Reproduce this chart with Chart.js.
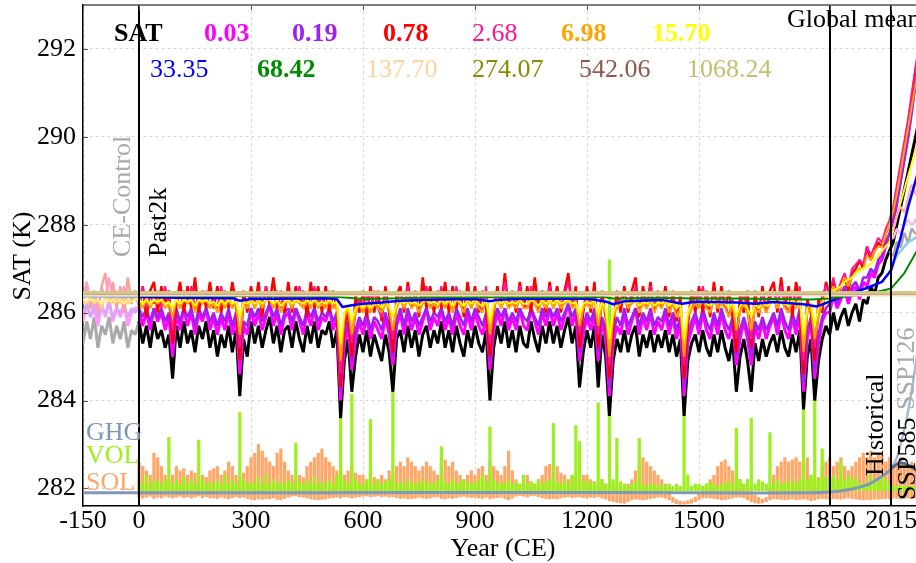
<!DOCTYPE html>
<html>
<head>
<meta charset="utf-8">
<script src="https://cdn.jsdelivr.net/npm/chart.js@4.4.1/dist/chart.umd.min.js"></script>
<style>
  html, body { margin: 0; padding: 0; background: #fff; overflow: hidden; }
  #wrap { width: 916px; height: 563px; overflow: hidden; }
  canvas { display: block; }
</style>
</head>
<body>
<div id="wrap"><canvas id="satChart" width="930" height="563"></canvas></div>
<script>
// decadal grid, CE-Control (-150..-10), Past2k, Historical, SSP585
const years = [
  -150, -140, -130, -120, -110, -100, -90, -80, -70, -60, -50, -40, -30, -20, -10,
  0, 10, 20, 30, 40, 50, 60, 70, 80, 90,
  100, 110, 120, 130, 140, 150, 160, 170, 180, 190,
  200, 210, 220, 230, 240, 250, 260, 270, 280, 290,
  300, 310, 320, 330, 340, 350, 360, 370, 380, 390,
  400, 410, 420, 430, 440, 450, 460, 470, 480, 490,
  500, 510, 520, 530, 540, 550, 560, 570, 580, 590,
  600, 610, 620, 630, 640, 650, 660, 670, 680, 690,
  700, 710, 720, 730, 740, 750, 760, 770, 780, 790,
  800, 810, 820, 830, 840, 850, 860, 870, 880, 890,
  900, 910, 920, 930, 940, 950, 960, 970, 980, 990,
  1000, 1010, 1020, 1030, 1040, 1050, 1060, 1070, 1080, 1090,
  1100, 1110, 1120, 1130, 1140, 1150, 1160, 1170, 1180, 1190,
  1200, 1210, 1220, 1230, 1240, 1250, 1260, 1270, 1280, 1290,
  1300, 1310, 1320, 1330, 1340, 1350, 1360, 1370, 1380, 1390,
  1400, 1410, 1420, 1430, 1440, 1450, 1460, 1470, 1480, 1490,
  1500, 1510, 1520, 1530, 1540, 1550, 1560, 1570, 1580, 1590,
  1600, 1610, 1620, 1630, 1640, 1650, 1660, 1670, 1680, 1690,
  1700, 1710, 1720, 1730, 1740, 1750, 1760, 1770, 1780, 1790,
  1800, 1810, 1820, 1830, 1840,
  1850, 1860, 1870, 1880, 1890, 1900, 1910, 1920, 1930, 1940,
  1950, 1960, 1970, 1980, 1990, 2000, 2010,
  2020, 2030, 2040, 2050, 2060, 2070, 2080, 2090
];

// raw SAT (black)
const satRaw = [
  285.3, 285.8, 285.4, 285.9, 285.2, 285.7, 285.5, 285.9, 285.3, 285.7, 285.4, 285.8, 285.2, 285.6, 285.5,
  285.8, 285.3, 285.7, 285.2, 285.8, 285.4, 285.6, 285.2, 285.5, 284.5,
  285.7, 285.2, 285.8, 285.3, 285.6, 285.1, 285.7, 285.4, 285.8, 285.2,
  285.6, 285.0, 285.5, 285.2, 285.7, 285.1, 285.6, 284.1, 285.4, 285.0,
  285.8, 285.3, 285.7, 285.2, 285.6, 285.9, 285.3, 285.7, 285.1, 285.6,
  285.7, 285.2, 285.8, 285.4, 285.1, 285.7, 285.3, 285.8, 285.2, 285.6,
  285.5, 285.8, 285.2, 285.6, 283.6, 284.9, 285.4, 284.2, 285.0, 285.5,
  285.1, 285.6, 285.0, 285.5, 285.2, 284.9, 285.5, 285.1, 284.2, 285.4,
  285.6, 285.1, 285.7, 285.2, 285.6, 285.0, 285.5, 285.7, 285.2, 285.6,
  285.3, 285.8, 285.2, 285.6, 285.1, 285.7, 285.3, 285.0, 285.6, 285.2,
  285.7, 285.3, 285.1, 285.6, 284.0, 285.2, 285.7, 285.3, 285.8, 285.2,
  285.6, 285.1, 285.7, 285.3, 285.2, 285.8, 285.4, 285.1, 285.7, 285.3,
  285.8, 285.3, 285.7, 285.2, 285.6, 285.9, 285.3, 285.7, 284.3, 285.1,
  285.6, 285.2, 285.7, 284.3, 285.5, 285.0, 283.65, 284.9, 285.4, 285.1,
  285.6, 285.1, 285.5, 285.7, 285.0, 285.5, 285.2, 285.6, 285.1, 285.5,
  285.2, 285.6, 285.1, 285.5, 285.0, 285.4, 283.65, 284.9, 285.3, 285.5,
  285.1, 285.6, 285.2, 285.0, 285.5, 285.1, 285.6, 285.2, 284.9, 285.4,
  284.2, 285.0, 285.4, 284.9, 284.2, 285.3, 284.9, 285.4, 285.0, 285.3,
  285.5, 285.1, 285.6, 285.2, 285.0, 285.5, 285.1, 285.6, 283.8, 285.0,
  285.4, 284.0, 284.9, 285.4, 285.7,
  285.5, 286.0, 285.6, 285.9, 286.1, 285.7, 286.0, 286.2, 285.8, 286.3,
  286.2, 286.6, 286.4, 286.8, 286.9, 287.2, 287.4,
  287.6, 288.0, 288.4, 288.8, 289.2, 289.6, 290.0, 290.4
];

// 0.03
const sat003 = [
  285.8, 286.2, 285.9, 286.1, 285.7, 286.2, 285.9, 286.3, 285.8, 286.1, 285.9, 286.2, 285.7, 286.0, 286.1,
  286.1, 285.7, 286.0, 285.6, 286.1, 285.8, 286.0, 285.6, 285.9, 285.0,
  286.0, 285.6, 286.1, 285.7, 286.0, 285.5, 286.0, 285.8, 286.1, 285.6,
  285.9, 285.5, 285.9, 285.6, 286.0, 285.5, 285.9, 284.6, 285.7, 285.5,
  286.1, 285.7, 286.0, 285.6, 285.9, 286.2, 285.7, 286.0, 285.5, 285.9,
  286.0, 285.6, 286.1, 285.8, 285.5, 286.0, 285.7, 286.1, 285.6, 285.9,
  285.8, 286.1, 285.6, 285.9, 284.0, 285.3, 285.7, 284.7, 285.4, 285.8,
  285.5, 285.9, 285.4, 285.8, 285.6, 285.4, 285.9, 285.5, 284.8, 285.7,
  286.0, 285.5, 286.0, 285.6, 285.9, 285.5, 285.8, 286.1, 285.6, 285.9,
  285.7, 286.1, 285.6, 285.9, 285.5, 286.0, 285.7, 285.5, 286.0, 285.6,
  286.0, 285.7, 285.5, 285.9, 284.7, 285.6, 286.0, 285.7, 286.1, 285.6,
  285.9, 285.6, 286.1, 285.7, 285.6, 286.1, 285.8, 285.5, 286.0, 285.7,
  286.1, 285.7, 286.0, 285.6, 285.9, 286.2, 285.7, 286.0, 284.9, 285.5,
  285.9, 285.6, 286.0, 284.9, 285.8, 285.4, 284.1, 285.3, 285.7, 285.5,
  286.0, 285.5, 285.8, 286.1, 285.5, 285.9, 285.6, 286.0, 285.5, 285.8,
  285.6, 286.0, 285.5, 285.9, 285.4, 285.8, 284.1, 285.3, 285.6, 285.9,
  285.5, 286.0, 285.6, 285.4, 285.9, 285.5, 286.0, 285.6, 285.4, 285.8,
  284.8, 285.4, 285.8, 285.4, 284.8, 285.7, 285.4, 285.8, 285.4, 285.7,
  285.9, 285.5, 286.0, 285.6, 285.4, 285.9, 285.5, 286.0, 284.2, 285.4,
  285.8, 284.5, 285.3, 285.8, 286.0,
  286.0, 286.4, 286.1, 286.3, 286.5, 286.2, 286.5, 286.6, 286.3, 286.7,
  286.6, 286.9, 286.8, 287.1, 287.2, 287.5, 287.7,
  288.0, 288.5, 289.0, 289.5, 290.0, 290.6, 291.3, 291.8
];

// 0.19
const sat019 = [
  286.0, 286.2, 285.9, 286.2, 285.9, 286.1, 286.0, 286.2, 285.9, 286.1, 286.0, 286.2, 285.9, 286.1, 286.0,
  286.1, 285.9, 286.1, 285.8, 286.1, 285.9, 286.1, 285.8, 286.0, 285.3,
  286.1, 285.8, 286.1, 285.9, 286.1, 285.7, 286.1, 285.9, 286.1, 285.8,
  286.0, 285.7, 286.0, 285.8, 286.1, 285.7, 286.0, 284.9, 285.8, 285.7,
  286.1, 285.9, 286.1, 285.8, 286.0, 286.2, 285.9, 286.1, 285.7, 286.0,
  286.1, 285.8, 286.1, 285.9, 285.7, 286.1, 285.9, 286.1, 285.8, 286.0,
  285.9, 286.1, 285.8, 286.0, 284.2, 285.5, 285.8, 284.9, 285.6, 285.9,
  285.7, 286.0, 285.6, 285.9, 285.8, 285.6, 286.0, 285.7, 285.0, 285.8,
  286.1, 285.7, 286.1, 285.8, 286.0, 285.7, 285.9, 286.1, 285.8, 286.0,
  285.9, 286.1, 285.8, 286.0, 285.7, 286.1, 285.9, 285.7, 286.1, 285.8,
  286.1, 285.9, 285.7, 286.0, 284.9, 285.8, 286.1, 285.9, 286.1, 285.8,
  286.0, 285.8, 286.1, 285.9, 285.8, 286.1, 285.9, 285.7, 286.1, 285.9,
  286.1, 285.9, 286.1, 285.8, 286.0, 286.2, 285.9, 286.1, 285.1, 285.7,
  286.0, 285.8, 286.1, 285.1, 285.9, 285.6, 284.3, 285.5, 285.9, 285.7,
  286.1, 285.7, 285.9, 286.1, 285.7, 286.0, 285.8, 286.1, 285.7, 285.9,
  285.8, 286.1, 285.7, 286.0, 285.6, 285.9, 284.3, 285.5, 285.8, 286.0,
  285.7, 286.1, 285.8, 285.6, 286.0, 285.7, 286.1, 285.8, 285.6, 285.9,
  285.0, 285.6, 285.9, 285.6, 285.0, 285.8, 285.6, 285.9, 285.6, 285.8,
  286.0, 285.7, 286.1, 285.8, 285.6, 286.0, 285.7, 286.1, 284.4, 285.6,
  285.9, 284.7, 285.5, 285.9, 286.1,
  286.2, 286.5, 286.2, 286.4, 286.6, 286.3, 286.6, 286.7, 286.5, 286.8,
  286.8, 287.0, 286.9, 287.2, 287.3, 287.6, 287.8,
  288.1, 288.5, 289.0, 289.5, 290.0, 290.6, 291.2, 291.7
];

// 0.78
const sat078 = [
  286.2, 286.7, 286.1, 286.5, 286.0, 286.6, 286.9, 286.2, 286.7, 286.1, 286.6, 286.0, 286.8, 286.2, 286.5,
  286.1, 286.6, 285.9, 286.5, 286.7, 286.0, 286.6, 286.2, 286.5, 285.3,
  286.2, 286.7, 286.0, 286.6, 286.1, 286.8, 286.0, 286.5, 286.1, 286.7,
  286.1, 286.6, 286.0, 286.5, 286.1, 286.7, 286.2, 284.9, 286.5, 286.0,
  286.6, 286.1, 286.7, 285.9, 286.6, 286.2, 286.8, 286.1, 286.5, 286.0,
  286.7, 286.0, 286.6, 286.2, 286.5, 285.9, 286.7, 286.1, 286.6, 286.0,
  286.6, 286.0, 286.5, 286.1, 284.3, 285.7, 286.0, 285.0, 286.4, 286.0,
  286.5, 285.9, 286.6, 286.0, 286.5, 285.8, 286.6, 286.0, 285.1, 286.4,
  286.6, 286.0, 286.7, 286.1, 286.5, 285.9, 286.8, 286.1, 286.6, 286.0,
  286.5, 286.1, 286.7, 286.0, 286.6, 286.1, 286.5, 285.9, 286.7, 286.1,
  286.6, 286.0, 286.5, 286.1, 285.0, 286.0, 286.6, 286.1, 286.9, 286.1,
  286.5, 286.0, 286.7, 286.1, 286.6, 286.0, 286.8, 286.1, 286.5, 286.0,
  286.7, 286.1, 286.6, 286.0, 286.5, 286.9, 286.1, 286.6, 285.2, 286.0,
  286.6, 286.0, 286.7, 285.2, 286.5, 285.9, 284.5, 285.7, 286.5, 286.0,
  286.6, 286.0, 286.5, 286.8, 285.9, 286.6, 286.1, 286.7, 286.0, 286.5,
  286.1, 286.6, 285.9, 286.5, 285.8, 286.4, 284.5, 285.7, 286.5, 286.0,
  286.6, 286.0, 286.5, 285.9, 286.7, 286.0, 286.6, 286.1, 286.5, 285.9,
  285.1, 286.4, 286.0, 286.5, 285.2, 286.5, 285.9, 286.6, 286.0, 286.5,
  286.7, 286.0, 286.8, 286.1, 286.6, 285.9, 286.7, 286.2, 284.6, 286.3,
  286.0, 284.9, 286.3, 286.0, 286.7,
  286.4, 286.7, 286.3, 286.6, 286.8, 286.5, 286.9, 287.0, 287.2, 287.0,
  287.5, 287.2, 287.4, 287.6, 287.5, 287.8, 288.0,
  288.3, 288.8, 289.3, 289.8, 290.3, 290.9, 291.5, 292.0
];

// 2.68
const sat268 = [
  286.3, 286.7, 286.2, 286.5, 286.1, 286.6, 286.3, 286.8, 286.2, 286.5, 286.3, 286.6, 286.2, 286.4, 286.5,
  286.2, 286.6, 286.1, 286.4, 286.2, 286.5, 286.1, 286.6, 286.2, 285.6,
  286.4, 286.1, 286.5, 286.2, 286.6, 286.1, 286.4, 286.2, 286.5, 286.1,
  286.3, 286.1, 286.6, 286.2, 286.4, 286.1, 286.3, 285.2, 286.2, 286.1,
  286.4, 286.2, 286.5, 286.1, 286.6, 286.3, 286.1, 286.5, 286.1, 286.4,
  286.5, 286.1, 286.4, 286.6, 286.1, 286.3, 286.1, 286.6, 286.2, 286.4,
  286.1, 286.5, 286.1, 286.3, 284.6, 285.8, 286.1, 285.3, 286.0, 286.3,
  286.0, 286.4, 286.0, 286.5, 286.1, 285.9, 286.4, 286.1, 285.4, 286.2,
  286.5, 286.1, 286.6, 286.2, 286.4, 286.0, 286.3, 286.6, 286.1, 286.4,
  286.2, 286.6, 286.1, 286.5, 286.0, 286.6, 286.2, 286.0, 286.5, 286.2,
  286.5, 286.2, 286.0, 286.6, 285.3, 286.1, 286.5, 286.2, 286.7, 286.2,
  286.4, 286.1, 286.6, 286.2, 286.1, 286.6, 286.3, 286.0, 286.5, 286.2,
  286.6, 286.2, 286.5, 286.1, 286.4, 286.7, 286.2, 286.4, 285.5, 286.1,
  286.4, 286.1, 286.5, 285.5, 286.3, 286.0, 284.8, 285.9, 286.2, 286.3,
  286.5, 286.1, 286.3, 286.6, 286.0, 286.4, 286.1, 286.6, 286.1, 286.3,
  286.2, 286.5, 286.0, 286.3, 285.9, 286.2, 284.8, 285.9, 286.1, 286.4,
  286.1, 286.6, 286.2, 286.0, 286.5, 286.1, 286.4, 286.2, 285.9, 286.3,
  285.4, 286.1, 286.4, 286.0, 285.4, 286.2, 286.0, 286.4, 286.1, 286.3,
  286.5, 286.1, 286.6, 286.2, 286.0, 286.5, 286.2, 286.6, 284.9, 286.0,
  286.2, 285.2, 285.9, 286.4, 286.6,
  286.5, 286.8, 286.4, 286.7, 286.9, 286.6, 287.0, 287.1, 287.2, 287.1,
  287.5, 287.3, 287.5, 287.7, 287.6, 287.9, 288.1,
  288.4, 288.9, 289.4, 289.9, 290.4, 291.0, 291.6, 292.1
];

// 6.98
const sat698 = [
  286.3, 286.2, 286.4, 286.2, 286.3, 286.1, 286.4, 286.3, 286.2, 286.4, 286.2, 286.3, 286.2, 286.4, 286.3,
  286.3, 286.1, 286.3, 286.1, 286.3, 286.2, 286.3, 286.1, 286.2, 285.9,
  286.3, 286.1, 286.3, 286.2, 286.3, 286.0, 286.3, 286.2, 286.3, 286.1,
  286.2, 286.0, 286.3, 286.1, 286.3, 286.1, 286.2, 285.5, 286.2, 286.1,
  286.3, 286.1, 286.3, 286.1, 286.3, 286.3, 286.1, 286.3, 286.0, 286.2,
  286.3, 286.1, 286.3, 286.2, 286.1, 286.3, 286.1, 286.3, 286.1, 286.2,
  286.1, 286.3, 286.1, 286.2, 284.9, 285.9, 286.1, 285.5, 286.0, 286.2,
  286.0, 286.2, 286.0, 286.2, 286.1, 286.0, 286.2, 286.1, 285.6, 286.1,
  286.3, 286.1, 286.3, 286.1, 286.2, 286.0, 286.2, 286.3, 286.1, 286.2,
  286.1, 286.3, 286.1, 286.3, 286.0, 286.3, 286.2, 286.0, 286.3, 286.1,
  286.3, 286.1, 286.0, 286.3, 285.5, 286.1, 286.3, 286.1, 286.3, 286.1,
  286.2, 286.1, 286.3, 286.1, 286.1, 286.3, 286.2, 286.0, 286.3, 286.1,
  286.3, 286.1, 286.3, 286.1, 286.2, 286.3, 286.1, 286.2, 285.7, 286.1,
  286.2, 286.1, 286.3, 285.7, 286.2, 286.0, 285.0, 285.9, 286.1, 286.2,
  286.3, 286.1, 286.2, 286.3, 286.0, 286.2, 286.1, 286.3, 286.0, 286.2,
  286.1, 286.3, 286.0, 286.2, 285.9, 286.1, 285.0, 285.9, 286.1, 286.2,
  286.1, 286.3, 286.1, 286.0, 286.3, 286.1, 286.2, 286.1, 285.9, 286.2,
  285.6, 286.0, 286.2, 286.0, 285.6, 286.1, 286.0, 286.2, 286.0, 286.2,
  286.3, 286.1, 286.3, 286.1, 286.0, 286.3, 286.1, 286.3, 285.1, 286.0,
  286.1, 285.4, 285.9, 286.2, 286.4,
  286.4, 286.6, 286.4, 286.6, 286.8, 286.6, 286.8, 286.9, 287.0, 287.0,
  287.3, 287.2, 287.4, 287.5, 287.5, 287.8, 288.0,
  288.3, 288.7, 289.2, 289.7, 290.2, 290.7, 291.2, 291.7
];

// 15.70
const sat1570 = [
  286.3, 286.25, 286.3, 286.25, 286.3, 286.2, 286.3, 286.25, 286.3, 286.25, 286.3, 286.2, 286.3, 286.25, 286.3,
  286.3, 286.2, 286.3, 286.2, 286.3, 286.25, 286.3, 286.2, 286.25, 286.1,
  286.3, 286.2, 286.3, 286.25, 286.3, 286.15, 286.3, 286.25, 286.3, 286.2,
  286.25, 286.15, 286.3, 286.2, 286.3, 286.2, 286.25, 285.9, 286.25, 286.2,
  286.3, 286.2, 286.3, 286.2, 286.3, 286.3, 286.2, 286.3, 286.15, 286.25,
  286.3, 286.2, 286.3, 286.25, 286.2, 286.3, 286.2, 286.3, 286.2, 286.25,
  286.2, 286.3, 286.2, 286.25, 285.3, 286.0, 286.15, 285.8, 286.1, 286.2,
  286.1, 286.25, 286.1, 286.2, 286.2, 286.1, 286.25, 286.15, 285.9, 286.2,
  286.3, 286.2, 286.3, 286.2, 286.25, 286.15, 286.25, 286.3, 286.2, 286.25,
  286.2, 286.3, 286.2, 286.3, 286.15, 286.3, 286.25, 286.15, 286.3, 286.2,
  286.3, 286.2, 286.15, 286.3, 285.8, 286.2, 286.3, 286.2, 286.3, 286.2,
  286.25, 286.2, 286.3, 286.2, 286.2, 286.3, 286.25, 286.15, 286.3, 286.2,
  286.3, 286.2, 286.3, 286.2, 286.25, 286.3, 286.2, 286.25, 285.95, 286.2,
  286.25, 286.2, 286.3, 285.95, 286.25, 286.1, 285.4, 286.0, 286.2, 286.25,
  286.3, 286.2, 286.25, 286.3, 286.15, 286.25, 286.2, 286.3, 286.15, 286.25,
  286.2, 286.3, 286.15, 286.25, 286.1, 286.2, 285.4, 286.0, 286.2, 286.25,
  286.2, 286.3, 286.2, 286.15, 286.3, 286.2, 286.25, 286.2, 286.1, 286.25,
  285.9, 286.15, 286.25, 286.1, 285.9, 286.2, 286.1, 286.25, 286.15, 286.2,
  286.3, 286.2, 286.3, 286.2, 286.15, 286.3, 286.2, 286.3, 285.5, 286.1,
  286.2, 285.7, 286.1, 286.25, 286.35,
  286.45, 286.5, 286.55, 286.6, 286.7, 286.75, 286.8, 286.9, 286.95, 287.0,
  287.05, 287.1, 287.2, 287.3, 287.4, 287.5, 287.6,
  287.9, 288.2, 288.5, 288.8, 289.1, 289.4, 289.7, 290.0
];

// 33.35 and 68.42 (smooth)
const blueYears = [-150, 0, 100, 250, 270, 300, 500, 530, 545, 570, 600, 650, 700, 800, 900, 940, 960, 1000, 1200, 1255,
  1270, 1300, 1400, 1455, 1475, 1500, 1600, 1650, 1700, 1780, 1815, 1850, 1900, 1950, 1990, 2015, 2040, 2060, 2080, 2100];
const sat3335 = [286.37, 286.36, 286.34, 286.33, 286.27, 286.31, 286.33, 286.31, 286.13, 286.17, 286.2, 286.23, 286.27, 286.3, 286.31, 286.26, 286.29, 286.31, 286.32, 286.24,
  286.19, 286.26, 286.29, 286.2, 286.23, 286.25, 286.23, 286.2, 286.24, 286.19, 286.14, 286.25, 286.42, 286.56, 286.7, 286.97, 287.7, 288.4, 289.0, 289.6];
const greenYears = [-150, 0, 500, 545, 600, 700, 800, 1250, 1270, 1400, 1460, 1480, 1600, 1700, 1800, 1850, 1900, 1950, 2015, 2050, 2080, 2100];
const sat6842 = [286.38, 286.38, 286.37, 286.35, 286.31, 286.33, 286.35, 286.35, 286.32, 286.34, 286.33, 286.32, 286.32, 286.31, 286.3, 286.32, 286.38, 286.42, 286.55, 286.9, 287.35, 287.65];

// long filters (flat)
const flatYears = [-150, 2100];
const sat13770 = [286.39, 286.39];
const sat27407 = [286.47, 286.47];
const sat54206 = [286.42, 286.42];
const sat106824 = [286.44, 286.44];

// SSP126 branch
const ssp126Years = [2010, 2020, 2030, 2040, 2050, 2060, 2070, 2080, 2090];
const ssp126Raw = [287.4, 287.3, 287.6, 287.5, 287.8, 287.6, 287.9, 287.8, 287.9];
const ssp126003 = [287.7, 287.7, 287.9, 287.8, 288.0, 288.1, 288.0, 288.1, 288.2];
const ssp126078 = [288.0, 287.9, 288.2, 288.4, 288.3, 288.6, 288.9, 288.7, 288.8];
const ssp1263335 = [286.9, 287.1, 287.3, 287.4, 287.5, 287.6, 287.65, 287.7, 287.75];

// forcings (offset onto the SAT axis)
const ghgYears = [-150, 0, 500, 1000, 1500, 1800, 1850, 1900, 1950, 1980, 2000, 2015];
const ghgValues = [281.9, 281.9, 281.9, 281.91, 281.9, 281.9, 281.92, 281.97, 282.08, 282.22, 282.33, 282.45];
const ghgScenYears = [2015, 2030, 2040, 2050, 2060, 2070, 2080, 2090];
const ghg585 = [282.45, 282.7, 283.0, 283.35, 283.75, 284.25, 284.8, 285.4];
const ghg126 = [282.45, 282.55, 282.58, 282.57, 282.53, 282.48, 282.43, 282.4];

const volBase = 281.95;
const volTop = [
  null, null, null, null, null, null, null, null, null, null, null, null, null, null, null,
  282.2, 282.1, 282.3, 282.1, 282.2, 282.15, 282.1, 282.2, 283.16, 282.1,
  282.2, 282.1, 282.25, 282.1, 282.2, 282.1, 283.1, 282.2, 282.1, 282.15,
  282.1, 282.2, 282.1, 282.3, 282.1, 282.2, 282.1, 283.73, 282.2, 282.1,
  282.15, 282.1, 282.25, 282.1, 282.3, 282.1, 282.2, 282.1, 282.15, 282.1,
  282.2, 282.1, 283.03, 282.15, 282.1, 282.2, 282.1, 282.25, 282.1, 282.15,
  282.1, 282.2, 282.1, 282.3, 284.6, 282.2, 282.1, 284.14, 282.2, 282.1,
  282.1, 282.2, 283.57, 282.1, 282.2, 282.1, 282.15, 282.2, 284.8, 282.1,
  282.15, 282.1, 282.2, 282.1, 282.15, 282.1, 282.2, 282.1, 282.15, 282.1,
  282.2, 282.95, 282.15, 282.1, 282.2, 282.1, 282.15, 282.2, 282.1, 282.15,
  282.1, 282.2, 282.3, 282.15, 283.4, 282.2, 282.1, 282.15, 282.1, 282.2,
  282.1, 282.15, 282.1, 282.3, 282.1, 282.15, 282.1, 282.2, 282.1, 282.15,
  282.2, 283.48, 282.15, 282.1, 282.2, 282.1, 282.3, 283.43, 283.07, 282.15,
  282.2, 282.1, 282.15, 283.95, 282.2, 282.1, 287.2, 282.2, 283.14, 282.15,
  282.1, 282.05, 282.1, 282.15, 283.14, 282.1, 282.05, 282.1, 282.1, 282.05,
  282.1, 282.05, 282.1, 282.05, 282.1, 282.05, 285.0, 282.3, 282.05, 282.1,
  282.1, 282.05, 282.1, 282.15, 282.1, 282.05, 282.1, 282.1, 282.2, 282.1,
  283.37, 282.2, 282.1, 282.2, 283.6, 282.1, 282.2, 282.15, 282.1, 283.27,
  282.1, 282.2, 282.1, 282.15, 282.1, 282.2, 282.1, 282.2, 284.5, 282.2,
  282.3, 284.3, 282.2, 282.9, 282.25, 282.2, 282.3, 282.2, 282.6, 282.2,
  282.3, 282.2, 282.25, 282.1, 282.15, 282.1, 282.3, 282.2, 282.15, 282.3,
  282.2, 282.1, 282.05, 282.05, 282.05, 282.05, 282.05, 282.05, 282.05, 282.05
];

const solHigh = [
  null, null, null, null, null, null, null, null, null, null, null, null, null, null, null,
  282.6, 282.5, 282.4, 282.3, 282.8, 282.7, 282.5, 282.3, 282.2, 282.3,
  282.5, 282.4, 282.45, 282.3, 282.4, 282.35, 282.2, 282.3, 282.25, 282.4,
  282.45, 282.5, 282.3, 282.4, 282.6, 282.5, 282.3, 282.2, 282.35, 282.5,
  282.7, 282.8, 283.0, 282.85, 282.7, 282.6, 282.5, 282.8, 282.9, 282.6,
  282.4, 282.3, 282.2, 282.3, 282.25, 282.5, 282.6, 282.7, 282.8, 282.9,
  282.7, 282.6, 282.5, 282.4, 282.5, 282.3, 282.4, 282.5, 282.35, 282.3,
  282.3, 282.2, 282.3, 282.25, 282.2, 282.3, 282.2, 282.4, 282.3, 282.5,
  282.6, 282.5, 282.7, 282.6, 282.5, 282.4, 282.5, 282.6, 282.5, 282.4,
  282.3, 282.6, 282.65, 282.5, 282.6, 282.4, 282.3, 282.2, 282.3, 282.4,
  282.3, 282.45, 282.5, 282.3, 282.6, 282.5, 282.4, 282.3, 282.5, 282.85,
  282.4, 282.2, 282.1, 282.2, 282.3, 282.15, 282.1, 282.2, 282.3, 282.5,
  282.55, 282.45, 282.5, 282.35, 282.3, 282.2, 282.3, 282.25, 282.2, 282.3,
  282.3, 282.2, 282.15, 282.1, 282.2, 282.1, 282.05, 282.1, 282.0, 281.95,
  282.0, 282.1, 282.2, 282.4, 282.6, 282.7, 282.6, 282.5, 282.4, 282.3,
  282.2, 282.1, 282.0, 281.8, 281.74, 281.71, 281.7, 281.72, 281.75, 281.8,
  281.9, 282.0, 282.1, 282.2, 282.3, 282.5, 282.6, 282.65, 282.5, 282.4,
  282.3, 282.2, 282.1, 282.2, 282.0, 281.85, 281.8, 281.75, 281.8, 282.0,
  282.3, 282.5, 282.6, 282.7, 282.6, 282.65, 282.7, 282.6, 282.5, 282.7,
  282.3, 282.2, 282.25, 282.5, 282.6, 282.7, 282.5, 282.6, 282.7, 282.5,
  282.4, 282.5, 282.6, 282.7, 282.8, 282.7, 282.85, 282.7, 282.8, 282.75,
  282.6, 282.7, 282.5, 282.6, 282.7, 282.6, 282.5, 282.6, 282.5, 282.6
];

const solLow = [
  null, null, null, null, null, null, null, null, null, null, null, null, null, null, null,
  281.80, 281.78, 281.80, 281.82, 281.77, 281.80, 281.78, 281.82, 281.80, 281.78,
  281.80, 281.82, 281.79, 281.81, 281.78, 281.80, 281.83, 281.79, 281.81, 281.78,
  281.79, 281.77, 281.80, 281.78, 281.76, 281.79, 281.81, 281.78, 281.80, 281.77,
  281.75, 281.74, 281.76, 281.75, 281.77, 281.76, 281.78, 281.75, 281.74, 281.77,
  281.80, 281.82, 281.83, 281.81, 281.80, 281.78, 281.76, 281.75, 281.74, 281.75,
  281.76, 281.78, 281.79, 281.80, 281.78, 281.81, 281.80, 281.78, 281.80, 281.81,
  281.82, 281.83, 281.81, 281.82, 281.83, 281.81, 281.82, 281.80, 281.81, 281.79,
  281.77, 281.78, 281.76, 281.77, 281.78, 281.80, 281.78, 281.77, 281.78, 281.80,
  281.81, 281.77, 281.76, 281.78, 281.77, 281.79, 281.81, 281.82, 281.80, 281.79,
  281.80, 281.78, 281.77, 281.80, 281.76, 281.78, 281.79, 281.80, 281.77, 281.74,
  281.78, 281.82, 281.84, 281.82, 281.80, 281.83, 281.84, 281.81, 281.79, 281.77,
  281.76, 281.77, 281.76, 281.78, 281.80, 281.81, 281.79, 281.80, 281.81, 281.79,
  281.78, 281.80, 281.79, 281.81, 281.78, 281.76, 281.72, 281.70, 281.68, 281.67,
  281.66, 281.70, 281.74, 281.76, 281.75, 281.74, 281.75, 281.77, 281.78, 281.80,
  281.80, 281.78, 281.74, 281.68, 281.65, 281.64, 281.64, 281.65, 281.66, 281.70,
  281.74, 281.78, 281.79, 281.78, 281.77, 281.76, 281.74, 281.75, 281.76, 281.78,
  281.80, 281.80, 281.79, 281.74, 281.70, 281.67, 281.66, 281.67, 281.70, 281.74,
  281.77, 281.76, 281.75, 281.74, 281.75, 281.76, 281.74, 281.75, 281.76, 281.75,
  281.72, 281.74, 281.76, 281.77, 281.76, 281.75, 281.77, 281.76, 281.75, 281.77,
  281.78, 281.77, 281.76, 281.75, 281.74, 281.75, 281.74, 281.76, 281.75, 281.76,
  281.77, 281.76, 281.78, 281.77, 281.76, 281.77, 281.78, 281.77, 281.78, 281.77
];

const periodBounds = [0, 1850, 2015];
const xTickValues = [-150, 0, 300, 600, 900, 1200, 1500, 1850, 2015];
const yTickValues = [282, 284, 286, 288, 290, 292];

const SERIF = '"Liberation Serif", "Times New Roman", serif';

function pts(xs, ys) {
  return xs.map((x, i) => ({ x, y: ys[i] })).filter(p => p.y !== null);
}

function floatBars(xs, lows, highs) {
  return xs.map((x, i) => (highs[i] === null ? null : { x, y: [lows[i], highs[i]] })).filter(Boolean);
}

// higher order = drawn further below
function satLine(xs, ys, color, pale, width, order) {
  return {
    type: 'line',
    data: pts(xs, ys),
    borderColor: color,
    borderWidth: width,
    pointRadius: 0,
    tension: 0,
    fill: false,
    borderJoinStyle: 'bevel',
    order,
    segment: { borderColor: ctx => (ctx.p0.parsed.x < 0 ? pale : undefined) }
  };
}

function plainLine(xs, ys, color, width, order) {
  return {
    type: 'line',
    data: pts(xs, ys),
    borderColor: color,
    borderWidth: width,
    pointRadius: 0,
    tension: 0.3,
    fill: false,
    order
  };
}

const datasets = [
  {
    type: 'bar', data: floatBars(years, solLow, solHigh), backgroundColor: '#FFA769',
    barThickness: 2.6, grouped: false, borderWidth: 0, order: 100
  },
  {
    type: 'bar', data: floatBars(years, years.map(() => volBase), volTop), backgroundColor: '#9CF01E',
    barThickness: 2.6, grouped: false, borderWidth: 0, order: 99
  },
  plainLine(ghgYears, ghgValues, '#7F9AB6', 3, 98),
  plainLine(ghgScenYears, ghg585, '#A7BCD1', 2.5, 97),
  plainLine(ghgScenYears, ghg126, '#4E6E8E', 3, 96),

  satLine(years, satRaw, '#000000', '#A9A9A9', 3, 60),
  satLine(years, sat003, '#FF00FF', '#FF99FF', 3, 59),
  satLine(years, sat019, '#A020F0', '#D8A6F4', 2.5, 58),
  satLine(years, sat078, '#FF0000', '#FFA0A0', 2.5, 57),
  satLine(years, sat268, '#FF1493', '#FF9CC8', 2, 56),
  satLine(years, sat698, '#FFA500', '#FFD27F', 2, 55),
  satLine(years, sat1570, '#FFFF00', '#FFF080', 2, 54),
  plainLine(ssp126Years, ssp126Raw, '#A9A9A9', 2.5, 53),
  plainLine(ssp126Years, ssp126003, '#F4B8F4', 2.5, 52),
  plainLine(ssp126Years, ssp126078, '#FFB4A8', 2.5, 51),
  plainLine(ssp126Years, ssp1263335, '#87CEEB', 2.5, 50),
  satLine(blueYears, sat3335, '#0000FF', '#9A9AFF', 2.5, 49),
  satLine(greenYears, sat6842, '#008B00', '#70D890', 2, 48),
  satLine(flatYears, sat13770, '#FFD39B', '#FFE2BE', 2, 47),
  satLine(flatYears, sat106824, '#C5BE72', '#E2DC98', 4, 46),
  satLine(flatYears, sat54206, '#8B5A4B', '#C9A596', 1.5, 45),
  satLine(flatYears, sat27407, '#8B8B00', '#C8C870', 1.5, 44)
];

const legendRow1 = [
  { text: 'SAT', x: 114, color: '#000000', bold: true },
  { text: '0.03', x: 204, color: '#FF00FF', bold: true },
  { text: '0.19', x: 292, color: '#A020F0', bold: true },
  { text: '0.78', x: 383, color: '#FF0000', bold: true },
  { text: '2.68', x: 472, color: '#FF1493', bold: false },
  { text: '6.98', x: 561, color: '#FFA500', bold: true },
  { text: '15.70', x: 652, color: '#FFFF00', bold: true }
];
const legendRow2 = [
  { text: '33.35', x: 150, color: '#0000FF', bold: false },
  { text: '68.42', x: 257, color: '#008B00', bold: true },
  { text: '137.70', x: 366, color: '#FFD39B', bold: false },
  { text: '274.07', x: 472, color: '#8B8B00', bold: false },
  { text: '542.06', x: 579, color: '#8B5A4B', bold: false },
  { text: '1068.24', x: 687, color: '#C5BE72', bold: false }
];

function vText(ctx, text, x, y, color, align) {
  ctx.save();
  ctx.translate(x, y);
  ctx.rotate(-Math.PI / 2);
  ctx.fillStyle = color;
  ctx.textAlign = align || 'left';
  ctx.textBaseline = 'alphabetic';
  ctx.fillText(text, 0, 0);
  ctx.restore();
}

const decorPlugin = {
  id: 'decor',
  afterDatasetsDraw(chart) {
    const { ctx, chartArea: a, scales: { x, y } } = chart;
    ctx.save();
    ctx.strokeStyle = '#000';
    ctx.lineWidth = 2;
    periodBounds.forEach(v => {
      const px = Math.round(x.getPixelForValue(v));
      ctx.beginPath();
      ctx.moveTo(px, a.top);
      ctx.lineTo(px, a.bottom);
      ctx.stroke();
    });
    // top frame + inward ticks
    ctx.strokeStyle = '#555';
    ctx.lineWidth = 1.5;
    ctx.beginPath();
    ctx.moveTo(a.left, a.top);
    ctx.lineTo(a.right, a.top);
    ctx.stroke();
    ctx.lineWidth = 1;
    xTickValues.forEach(v => {
      const px = Math.round(x.getPixelForValue(v)) + 0.5;
      ctx.beginPath();
      ctx.moveTo(px, a.top);
      ctx.lineTo(px, a.top + 5);
      ctx.stroke();
    });
    yTickValues.forEach(v => {
      const py = Math.round(y.getPixelForValue(v)) + 0.5;
      ctx.beginPath();
      ctx.moveTo(a.left, py);
      ctx.lineTo(a.left + 5, py);
      ctx.stroke();
    });
    ctx.restore();
  },
  afterDraw(chart) {
    const { ctx } = chart;
    ctx.save();
    ctx.textBaseline = 'alphabetic';
    ctx.textAlign = 'left';
    legendRow1.forEach(t => {
      ctx.font = (t.bold ? 'bold ' : '') + '26px ' + SERIF;
      ctx.fillStyle = t.color;
      ctx.fillText(t.text, t.x, 41);
    });
    legendRow2.forEach(t => {
      ctx.font = (t.bold ? 'bold ' : '') + '26px ' + SERIF;
      ctx.fillStyle = t.color;
      ctx.fillText(t.text, t.x, 77);
    });
    ctx.font = '26px ' + SERIF;
    ctx.fillStyle = '#000';
    ctx.fillText('Global mean', 787, 27);

    ctx.fillStyle = '#7C98B6';
    ctx.fillText('GHG', 86, 440);
    ctx.fillStyle = '#9CF01E';
    ctx.fillText('VOL', 86, 463);
    ctx.fillStyle = '#FFA769';
    ctx.fillText('SOL', 86, 490);

    vText(ctx, 'CE-Control', 130, 257, '#AAAAAA');
    vText(ctx, 'Past2k', 166, 257, '#000000');
    vText(ctx, 'Historical', 883, 476, '#000000');
    vText(ctx, 'SSP585', 915, 500, '#000000');
    vText(ctx, 'SSP126', 914, 410, '#AAAAAA');
    vText(ctx, 'SAT (K)', 30, 256, '#000000', 'center');

    ctx.textAlign = 'center';
    ctx.fillStyle = '#000';
    ctx.fillText('Year (CE)', 503, 556);
    ctx.restore();
  }
};

const tickFont = { family: SERIF, size: 26 };

new Chart(document.getElementById('satChart'), {
  type: 'line',
  data: { datasets },
  options: {
    responsive: false,
    devicePixelRatio: 1,
    animation: false,
    events: [],
    layout: { padding: { top: 5, right: 7, left: 0, bottom: 0 } },
    plugins: { legend: { display: false }, tooltip: { enabled: false } },
    scales: {
      x: {
        type: 'linear',
        min: -150,
        max: 2100,
        offset: false,
        afterBuildTicks: s => { s.ticks = xTickValues.map(v => ({ value: v })); },
        afterFit: s => { s.height = 57; s.paddingLeft = 0; s.paddingRight = 0; },
        ticks: { autoSkip: false, maxRotation: 0, color: '#000', font: tickFont, padding: 0, callback: v => String(v) },
        grid: { color: '#d8d8d8', lineWidth: 1, drawTicks: false, offset: false },
        border: { display: true, color: '#000', width: 1.5, dash: [3, 3] }
      },
      y: {
        type: 'linear',
        min: 281.6,
        max: 293.0,
        afterBuildTicks: s => { s.ticks = yTickValues.map(v => ({ value: v })); },
        afterFit: s => { s.width = 83; s.paddingTop = 0; s.paddingBottom = 0; },
        ticks: { color: '#000', font: tickFont, padding: 7, callback: v => String(v) },
        grid: { color: '#d8d8d8', lineWidth: 1, drawTicks: false },
        border: { display: true, color: '#000', width: 1.5, dash: [3, 3] }
      }
    }
  },
  plugins: [decorPlugin]
});
</script>
</body>
</html>
